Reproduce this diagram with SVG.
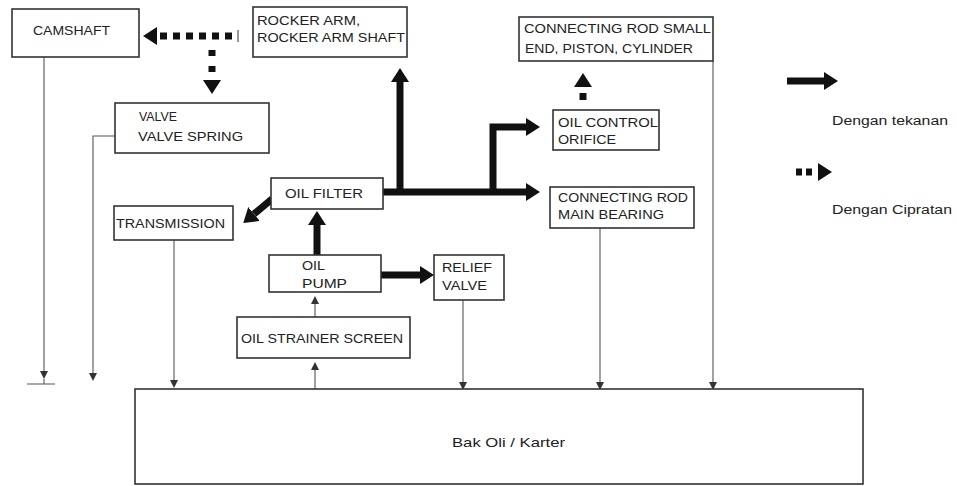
<svg xmlns="http://www.w3.org/2000/svg" width="957" height="486" viewBox="0 0 957 486">
<style>
.box{fill:#fff;stroke:#333;stroke-width:1.6}
.t{font-family:"Liberation Sans",Arial,sans-serif;font-size:13px;fill:#222}
.leg{font-family:"Liberation Sans",Arial,sans-serif;font-size:12px;fill:#222}
.thick{fill:none;stroke:#111;stroke-width:7;stroke-linejoin:miter}
.splash{fill:none;stroke:#111;stroke-width:7}
.thin{fill:none;stroke:#555;stroke-width:1.1}
</style>
<defs>
<marker id="big" markerUnits="userSpaceOnUse" markerWidth="16" markerHeight="18" refX="0" refY="9" orient="auto">
<path d="M0,0 L14,9 L0,18 z" fill="#111"/>
</marker>
<marker id="small" markerUnits="userSpaceOnUse" markerWidth="8" markerHeight="8" refX="0" refY="4" orient="auto">
<path d="M0,0 L8,4 L0,8 z" fill="#333"/>
</marker>
</defs>
<rect width="957" height="486" fill="#fff"/>

<g id="connectors">
<path class="thick" d="M383,192 H526" marker-end="url(#big)"/>
<path class="thick" d="M400,192 V82" marker-end="url(#big)"/>
<path class="thick" d="M493,192 V127 H526" marker-end="url(#big)"/>
<path class="thick" d="M272,199 L254,214" marker-end="url(#big)"/>
<path class="thick" d="M317,255 V225" marker-end="url(#big)"/>
<path class="thick" d="M381,275 H420" marker-end="url(#big)"/>
<line x1="238" y1="30" x2="238" y2="42" stroke="#333" stroke-width="1"/>
<path class="splash" d="M232,36 H157" stroke-dasharray="7 6" marker-end="url(#big)"/>
<path class="splash" d="M212,50 V80" stroke-dasharray="6 10" marker-end="url(#big)"/>
<path class="splash" d="M583,100 V87" stroke-dasharray="7 6" marker-end="url(#big)"/>
<path class="thin" d="M44,57 V371" marker-end="url(#small)"/>
<path class="thin" d="M44,379 V384 M27,384 H55"/>
<path class="thin" d="M115,136 H93 V373" marker-end="url(#small)"/>
<path class="thin" d="M174,240 V380" marker-end="url(#small)"/>
<path class="thin" d="M315,317 V304" marker-end="url(#small)"/>
<path class="thin" d="M315,389 V370" marker-end="url(#small)"/>
<path class="thin" d="M463,300 V382" marker-end="url(#small)"/>
<path class="thin" d="M600,228 V382" marker-end="url(#small)"/>
<path class="thin" d="M713,61 V382" marker-end="url(#small)"/>
</g>

<g id="camshaft"><rect class="box" x="12" y="9" width="127" height="48"/><text class="t" x="33" y="35" textLength="77" lengthAdjust="spacingAndGlyphs">CAMSHAFT</text></g>
<g id="rocker"><rect class="box" x="253" y="7" width="154" height="50"/><text class="t" x="257" y="25" textLength="103" lengthAdjust="spacingAndGlyphs">ROCKER ARM,</text><text class="t" x="257" y="42" textLength="148" lengthAdjust="spacingAndGlyphs">ROCKER ARM SHAFT</text></g>
<g id="valve"><rect class="box" x="115" y="103" width="154" height="50"/><text class="t" x="139" y="121" textLength="38" lengthAdjust="spacingAndGlyphs">VALVE</text><text class="t" x="138" y="141" textLength="105" lengthAdjust="spacingAndGlyphs">VALVE SPRING</text></g>
<g id="oilfilter"><rect class="box" x="271" y="178" width="112" height="31"/><text class="t" x="285" y="198" textLength="78" lengthAdjust="spacingAndGlyphs">OIL FILTER</text></g>
<g id="transmission"><rect class="box" x="114" y="206" width="119" height="34"/><text class="t" x="116" y="228" textLength="109" lengthAdjust="spacingAndGlyphs">TRANSMISSION</text></g>
<g id="oilpump"><rect class="box" x="269" y="255" width="112" height="37"/><text class="t" x="302" y="270" textLength="23" lengthAdjust="spacingAndGlyphs">OIL</text><text class="t" x="302" y="288" textLength="45" lengthAdjust="spacingAndGlyphs">PUMP</text></g>
<g id="relief"><rect class="box" x="434" y="255" width="70" height="45"/><text class="t" x="442" y="272" textLength="50" lengthAdjust="spacingAndGlyphs">RELIEF</text><text class="t" x="442" y="290" textLength="45" lengthAdjust="spacingAndGlyphs">VALVE</text></g>
<g id="strainer"><rect class="box" x="237" y="317" width="173" height="41"/><text class="t" x="241" y="343" textLength="162" lengthAdjust="spacingAndGlyphs">OIL STRAINER SCREEN</text></g>
<g id="smallend"><rect class="box" x="519" y="17" width="194" height="44"/><text class="t" x="524" y="33" textLength="187" lengthAdjust="spacingAndGlyphs">CONNECTING ROD SMALL</text><text class="t" x="525" y="53" textLength="168" lengthAdjust="spacingAndGlyphs">END, PISTON, CYLINDER</text></g>
<g id="orifice"><rect class="box" x="553" y="110" width="106" height="40"/><text class="t" x="558" y="127" textLength="100" lengthAdjust="spacingAndGlyphs">OIL CONTROL</text><text class="t" x="558" y="144" textLength="58" lengthAdjust="spacingAndGlyphs">ORIFICE</text></g>
<g id="mainbearing"><rect class="box" x="550" y="187" width="144" height="41"/><text class="t" x="558" y="202" textLength="130" lengthAdjust="spacingAndGlyphs">CONNECTING ROD</text><text class="t" x="558" y="219" textLength="106" lengthAdjust="spacingAndGlyphs">MAIN BEARING</text></g>
<g id="karter"><rect class="box" x="135" y="389" width="728" height="95"/><text class="t" x="452" y="447" textLength="113" lengthAdjust="spacingAndGlyphs">Bak Oli / Karter</text></g>

<g id="legend">
<path class="thick" d="M787,81 H824" stroke-width="8" marker-end="url(#big)"/>
<text class="leg" x="832" y="125" textLength="116" lengthAdjust="spacingAndGlyphs">Dengan tekanan</text>
<path class="splash" d="M796,172 H818" stroke-dasharray="6 4 6 20" marker-end="url(#big)"/>
<text class="leg" x="832" y="214" textLength="120" lengthAdjust="spacingAndGlyphs">Dengan Cipratan</text>
</g>
</svg>
